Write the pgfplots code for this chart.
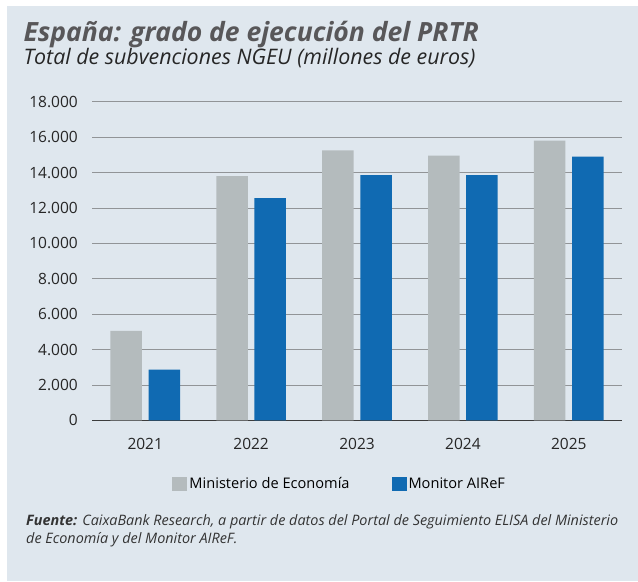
\documentclass[border=0pt]{standalone}
\usepackage{fontspec}
\setmainfont{Open Sans}
\usepackage{pgfplots}
\pgfplotsset{compat=1.18}

\definecolor{panel}{RGB}{223,231,238}
\definecolor{titlegray}{RGB}{88,87,89}
\definecolor{bargray}{RGB}{180,187,189}
\definecolor{barblue}{RGB}{16,106,178}
\definecolor{gridgray}{RGB}{145,148,151}
\definecolor{axisdark}{RGB}{60,60,60}

\begin{document}
\begin{tikzpicture}
  % page and panel
  \path[use as bounding box, fill=white] (0bp,0bp) rectangle (638bp,-582bp);
  \fill[panel] (6.7bp,-6bp) rectangle (638bp,-581bp);

  % titles
  \node[anchor=base west, inner sep=0pt, text=titlegray,
        font=\fontsize{26.5bp}{30bp}\selectfont\bfseries\itshape]
    at (23.3bp,-41.7bp) {España: grado de ejecución del PRTR};
  \node[anchor=base west, inner sep=0pt, text=black!85,
        font=\fontsize{21.4bp}{24bp}\selectfont\itshape]
    at (23.3bp,-64bp) {Total de subvenciones NGEU (millones de euros)};

  \begin{axis}[
      at={(92.3bp,-420.3bp)}, anchor=south west,
      width=529.4bp, height=318.6bp, scale only axis,
      ybar=6.7bp, bar width=31.5bp,
      xmin=-0.5, xmax=4.5,
      ymin=0, ymax=18000,
      ytick={0,2000,...,18000},
      scaled y ticks=false,
      xtick={0,1,2,3,4},
      xticklabels={2021,2022,2023,2024,2025},
      major x tick style={draw=none},
      extra x ticks={-0.5,0.5,1.5,2.5,3.5,4.5},
      extra x tick labels={},
      extra x tick style={tick align=inside, major tick length=5bp,
        tick style={draw=axisdark, line width=1pt}},
      axis lines*=left,
      x axis line style={draw=axisdark, line width=1.2pt},
      y axis line style={draw=none},
      ytick style={draw=none},
      ymajorgrids,
      grid style={draw=gridgray, line width=0.8pt},
      tick label style={font=\fontsize{15.5bp}{19bp}\selectfont, text=black!85},
      yticklabel style={xshift=-11bp},
      xticklabel style={yshift=-10bp},
      /pgf/number format/.cd, 1000 sep={.}, assume math mode=true,
      /pgfplots/.cd,
      legend style={at={(0.1511,-0.199)}, anchor=west, draw=none, fill=none,
        inner sep=0pt, legend columns=2,
        font=\fontsize{14.6bp}{17bp}\selectfont,
        /tikz/every even column/.append style={column sep=40bp}},
      legend image code/.code={\fill[#1,draw=none] (0bp,-7bp) rectangle (15bp,7bp);},
    ]
    \addplot[fill=bargray, draw=none] coordinates {
      (0,5050) (1,13800) (2,15250) (3,14950) (4,15800)
    };
    \addplot[fill=barblue, draw=none] coordinates {
      (0,2870) (1,12550) (2,13850) (3,13850) (4,14900)
    };
    \legend{Ministerio de Economía, Monitor AIReF}
  \end{axis}

  % source note
  \node[anchor=base west, inner sep=0pt, text=black!80,
        font=\fontsize{14.4bp}{17bp}\selectfont\itshape]
    at (26bp,-525bp) {{\bfseries Fuente:} CaixaBank Research, a partir de datos del Portal de Seguimiento ELISA del Ministerio};
  \node[anchor=base west, inner sep=0pt, text=black!80,
        font=\fontsize{14.4bp}{17bp}\selectfont\itshape]
    at (26bp,-543.5bp) {de Economía y del Monitor AIReF.};
\end{tikzpicture}
\end{document}
